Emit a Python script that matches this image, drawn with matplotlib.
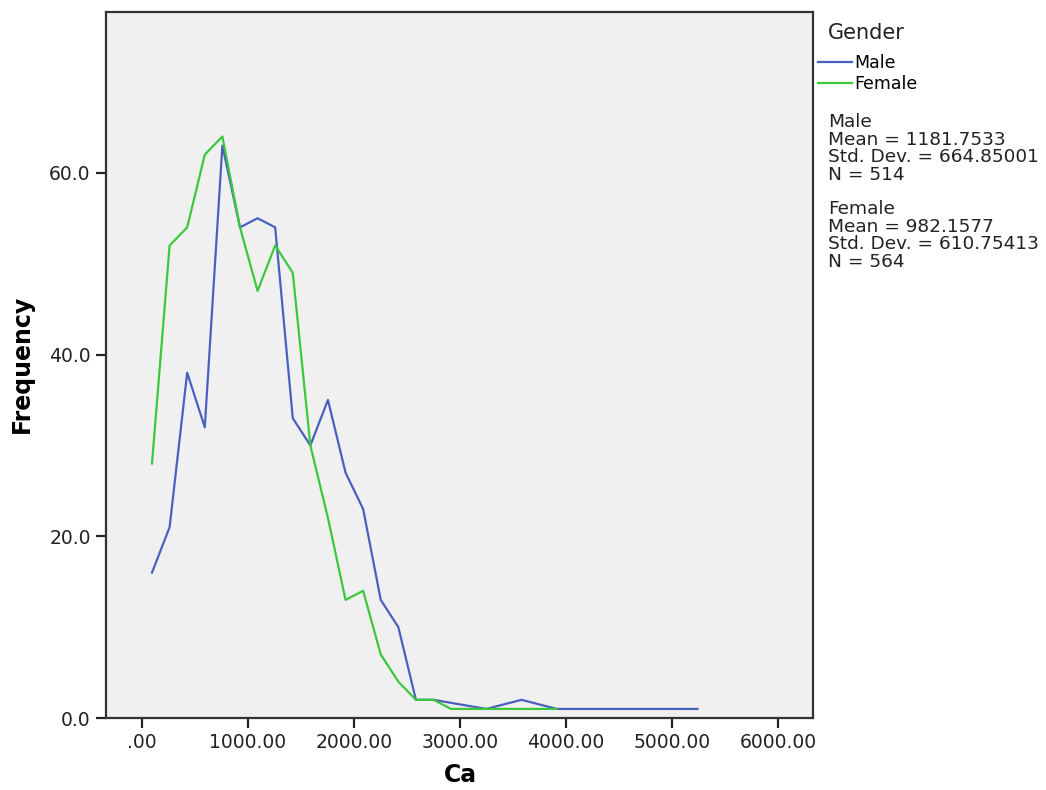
import matplotlib.pyplot as plt
from matplotlib.lines import Line2D

# frequency polygon vertices (bin mid points of Ca)
male_x = [94, 260, 426, 592, 758, 924, 1090, 1256, 1422, 1588, 1754, 1920, 2086,
          2252, 2418, 2584, 2750, 3248, 3580, 3912, 5240]
male_y = [16, 21, 38, 32, 63, 54, 55, 54, 33, 30, 35, 27, 23, 13, 10, 2, 2, 1, 2, 1, 1]

female_x = [94, 260, 426, 592, 758, 924, 1090, 1256, 1422, 1588, 1754, 1920, 2086,
            2252, 2418, 2584, 2750, 2916, 3912]
female_y = [28, 52, 54, 62, 64, 54, 47, 52, 49, 30, 22, 13, 14, 7, 4, 2, 2, 1, 1]

x_ticks = [0, 1000, 2000, 3000, 4000, 5000, 6000]
x_labels = ['.00', '1000.00', '2000.00', '3000.00', '4000.00', '5000.00', '6000.00']
y_ticks = [0, 20, 40, 60]
y_labels = ['0.0', '20.0', '40.0', '60.0']

male_stats = ['Male', 'Mean = 1181.7533', 'Std. Dev. = 664.85001', 'N = 514']
female_stats = ['Female', 'Mean = 982.1577', 'Std. Dev. = 610.75413', 'N = 564']

male_col = '#4a5fc0'
female_col = '#3cc83c'

plt.rcParams['font.family'] = 'DejaVu Sans'

fig = plt.figure(figsize=(10.46, 7.90), dpi=100)
ax = fig.add_axes([106/1046, 1 - 718/790, (813 - 106)/1046, (718 - 12)/790])
ax.set_facecolor('#f0f0f0')

ax.plot(male_x, male_y, color=male_col, lw=1.6)
ax.plot(female_x, female_y, color=female_col, lw=1.6)

ax.set_xlim(-340, 6330)
ax.set_ylim(0, 77.7)
ax.set_xticks(x_ticks)
ax.set_xticklabels(x_labels)
ax.set_yticks(y_ticks)
ax.set_yticklabels(y_labels)
ax.tick_params(axis='both', direction='out', length=7, width=1.6, color='#222222',
               labelsize=13.5, labelcolor='#222222', pad=4)
for s in ax.spines.values():
    s.set_color('#333333')
    s.set_linewidth(1.6)

ax.set_xlabel('Ca', fontsize=17, fontweight='bold')
ax.set_ylabel('Frequency', fontsize=17, fontweight='bold')
ax.xaxis.set_label_coords((460 - 106)/707, (718 - 775)/706)
ax.yaxis.set_label_coords((22 - 106)/707, (718 - 364)/706)
ax.xaxis.label.set_va('center')
ax.yaxis.label.set_va('center')

# legend block on the right
fig.text(828/1046, 1 - 33/790, 'Gender', fontsize=15, va='center', ha='left', color='#222222')
handles = [Line2D([], [], color=male_col, lw=1.6), Line2D([], [], color=female_col, lw=1.6)]
fig.legend(handles, ['Male', 'Female'], loc='upper left',
           bbox_to_anchor=(818/1046, 1 - 54/790), frameon=False, fontsize=12.5,
           handlelength=1.95, handletextpad=0.15, labelspacing=0.15, borderpad=0,
           borderaxespad=0)

y0 = 122
for i, line in enumerate(male_stats):
    fig.text(828/1046, 1 - (y0 + 17.7*i)/790, line, fontsize=13.3, va='center', ha='left',
             color='#222222')
y0 = 209
for i, line in enumerate(female_stats):
    fig.text(828/1046, 1 - (y0 + 17.7*i)/790, line, fontsize=13.3, va='center', ha='left',
             color='#222222')

fig.savefig('out.png', dpi=100)
